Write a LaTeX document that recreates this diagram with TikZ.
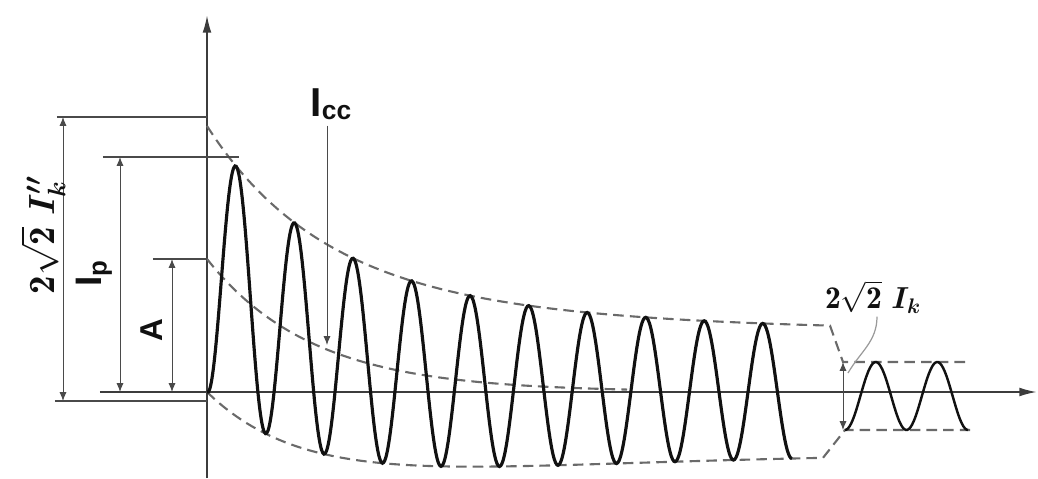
\documentclass[tikz,border=0pt]{standalone}
\usepackage{amsmath,amssymb}
\usepackage{fontspec}
\setsansfont{Liberation Sans}
\usetikzlibrary{arrows.meta, calc}
\definecolor{inkblack}{HTML}{111111}
\definecolor{axgray}{HTML}{3C3C3C}
\definecolor{envgray}{HTML}{6A6A6A}
\definecolor{dimgray}{HTML}{4A4A4A}
\definecolor{leadgray}{HTML}{9A9A9A}

\begin{document}
\begin{tikzpicture}[
  x=0.02cm, y=0.02cm,
  >={Latex[length=5pt, width=4pt]},
  axis/.style={-{Latex[length=10pt, width=5pt]}, axgray, line width=1.1pt},
  dimline/.style={<->, dimgray, line width=0.5pt},
  extline/.style={dimgray, line width=0.7pt},
  envelope/.style={envgray, line width=1.2pt, dash pattern=on 6pt off 3.5pt},
  wave/.style={inkblack, line width=1.8pt},
  sflbl/.style={inkblack, font=\sffamily\bfseries},
  mlbl/.style={inkblack, inner sep=0pt},
]
\useasboundingbox (-207,-86) rectangle (831,392);

% ══════════════════════════════════════════════════════
% Axes
% ══════════════════════════════════════════════════════
\draw[axis] (0,-86) -- (0,377);
\draw[axis] (-107,0) -- (830,0);

% ══════════════════════════════════════════════════════
% Short-circuit current parameters
% ══════════════════════════════════════════════════════
%   i(t) = dc(t) - ac(t) cos(wt)
%   dc(t) = dcz exp(-t/tdc)
%   ac(t) = acinf + acamp exp(-t/tac)
\pgfmathsetmacro{\dcz}{133}    % initial dc component
\pgfmathsetmacro{\tdc}{105}    % dc time constant
\pgfmathsetmacro{\acinf}{60}   % steady ac amplitude
\pgfmathsetmacro{\acamp}{73}   % decaying part of ac amplitude
\pgfmathsetmacro{\tac}{250}    % ac time constant
\pgfmathsetmacro{\per}{58.5}   % period

% ── Envelopes ───────────────────────────────────────
\draw[envelope]
  plot[variable=\t, domain=0:623, samples=80, smooth]
    ({\t}, {\dcz*exp(-\t/\tdc) + \acinf + \acamp*exp(-\t/\tac)})
  -- (636,30) -- (763,30);
\draw[envelope]
  plot[variable=\t, domain=0:616, samples=80, smooth]
    ({\t}, {\dcz*exp(-\t/\tdc) - \acinf - \acamp*exp(-\t/\tac)})
  -- (638,-38) -- (763,-38);

% ── Decaying dc component ───────────────────────────
\draw[envelope]
  plot[variable=\t, domain=0:420, samples=60, smooth]
    ({\t}, {\dcz*exp(-\t/\tdc)});

% ── Transient current ───────────────────────────────
\draw[wave]
  plot[variable=\t, domain=0:585, samples=481, smooth]
    ({\t}, {\dcz*exp(-\t/\tdc) - (\acinf + \acamp*exp(-\t/\tac))*cos(\t/\per*360)});

% ── Steady-state current ────────────────────────────
\draw[wave, line width=1.4pt]
  plot[variable=\t, domain=638:761, samples=80, smooth]
    ({\t}, {-4 - 34*cos((\t-638)/61.5*360)});

% ══════════════════════════════════════════════════════
% Dimensions on the left
% ══════════════════════════════════════════════════════
% 2 sqrt2 I''k
\draw[extline] (-150,275) -- (0,275);
\draw[extline] (-152,-9) -- (0,-9);
\coordinate (ikt) at (-144,275);
\coordinate (ikb) at (-144,-9);
\draw[dimline] (ikt) -- (ikb);
\node[mlbl, rotate=90, font=\fontsize{21}{23}\selectfont] (ikpp)
  at (-164,157) {$\mathbf{2\sqrt{2}}\ \boldsymbol{I''_{k}}$};

% Ip
\draw[extline] (-104,235) -- (32,235);
\coordinate (ipt) at (-87,235);
\coordinate (ipb) at (-87,0);
\draw[dimline] (ipt) -- (ipb);
\node[sflbl, rotate=90, font=\sffamily\bfseries\fontsize{21}{23}\selectfont] (ip)
  at (-113,119) {I\textsubscript{p}};

% A
\draw[extline] (-54,133) -- (0,133);
\coordinate (at) at (-35,133);
\coordinate (ab) at (-35,0);
\draw[dimline] (at) -- (ab);
\node[sflbl, rotate=90, font=\sffamily\bfseries\fontsize{18}{20}\selectfont] (amp)
  at (-55,62) {A};

% ══════════════════════════════════════════════════════
% Icc label
% ══════════════════════════════════════════════════════
\node[sflbl, font=\sffamily\bfseries\fontsize{23}{26}\selectfont] (icc)
  at (124,288) {I\raisebox{-1.5pt}{\fontsize{15}{15}\selectfont cc}};
\coordinate (iccend) at (120,47);
\draw[dimgray, line width=0.5pt, ->] (iccend |- icc.south) -- (iccend);

% ══════════════════════════════════════════════════════
% Steady-state amplitude
% ══════════════════════════════════════════════════════
\coordinate (sst) at (636,30);
\coordinate (ssb) at (636,-38);
\draw[dimline] (sst) -- (ssb);
\node[mlbl, font=\fontsize{18}{20}\selectfont] (iks)
  at (666,95) {$\mathbf{2\sqrt{2}}\ \boldsymbol{I_{k}}$};
\coordinate (iksend) at (641,19);
\draw[leadgray, line width=0.7pt]
  ($(iks.south)+(4,-3)$) to[out=-90, in=60] (iksend);

\end{tikzpicture}
\end{document}
